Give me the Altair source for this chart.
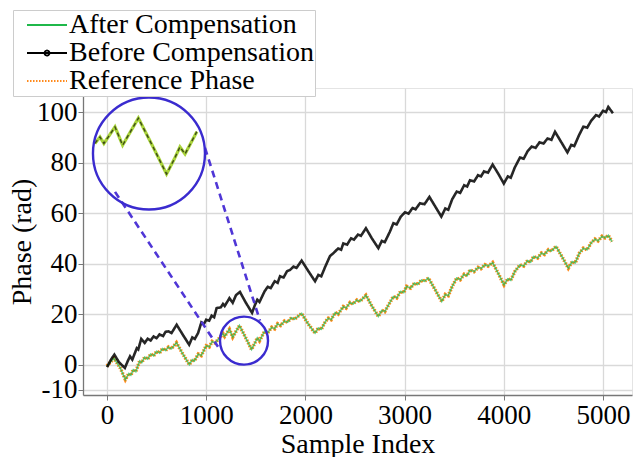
import altair as alt
import pandas as pd

# ---------------- data ----------------
series_names = ["After Compensation", "Before Compensation", "Reference Phase"]
series_colors = ["#1fb84a", "#000000", "#ff8a1c"]

after_samples = [0, 70, 130, 185, 220, 240, 265, 290, 330, 350, 380, 410, 440, 470, 500, 530,
                 560, 590, 620, 650, 700, 760, 830, 860, 880, 920, 950, 1000, 1030, 1060, 1090,
                 1147, 1169, 1186, 1234, 1267, 1335, 1400, 1457, 1490, 1515, 1537, 1588, 1620,
                 1660, 1690, 1720, 1750, 1790, 1820, 1860, 1890, 1962, 2030, 2097, 2130, 2160,
                 2200, 2231, 2260, 2300, 2330, 2382, 2410, 2450, 2480, 2520, 2550, 2610, 2670,
                 2735, 2770, 2800, 2850, 2887, 2920, 2960, 2990, 3020, 3060, 3100, 3130, 3170,
                 3200, 3240, 3310, 3374, 3410, 3440, 3480, 3525, 3560, 3600, 3630, 3660, 3700,
                 3740, 3770, 3810, 3840, 3887, 3945, 4002, 4040, 4070, 4110, 4163, 4200, 4240,
                 4270, 4300, 4340, 4380, 4410, 4450, 4480, 4526, 4590, 4650, 4690, 4720, 4760,
                 4802, 4840, 4880, 4919, 4950, 4990, 5020, 5053, 5090]
after_values = [-0.5, 2.5, -1.0, -5.9, -3.5, -4.2, -2.0, -2.8, 1.5, 0.8, 3.0, 2.2, 4.2, 3.5, 5.3, 4.6,
                6.4, 5.6, 7.0, 6.3, 8.7, 4.5, 0.0, 2.0, 1.4, 4.2, 3.6, 7.5, 7.0, 9.2, 8.6,
                11.2, 12.3, 11.2, 14.0, 10.9, 15.5, 10.5, 6.0, 8.5, 10.6, 9.4, 13.2, 12.6,
                14.8, 14.2, 16.2, 15.5, 17.3, 16.8, 18.6, 18.0, 20.3, 16.0, 12.5, 14.5, 14.0,
                17.0, 18.4, 17.8, 20.6, 20.0, 23.0, 22.4, 24.6, 24.0, 25.6, 25.0, 27.5, 23.2,
                19.1, 21.5, 21.0, 24.5, 27.0, 26.4, 29.0, 28.5, 31.0, 30.3, 32.3, 31.7, 33.5,
                33.0, 34.3, 29.5, 25.0, 27.8, 27.3, 31.0, 34.3, 33.6, 35.8, 35.2, 37.5, 36.8,
                38.5, 38.0, 39.6, 39.0, 40.4, 36.0, 31.6, 34.0, 33.4, 36.8, 39.5, 39.0, 41.2,
                40.6, 42.8, 42.2, 44.2, 43.6, 45.5, 45.0, 46.8, 42.5, 38.2, 40.8, 40.3, 44.0,
                46.1, 45.5, 48.2, 49.7, 49.0, 50.8, 50.2, 51.2, 48.7]

# the reference phase lies on top of the compensated phase
reference_samples = after_samples
reference_values = after_values

before_samples = [0, 40, 74, 120, 180, 210, 232, 255, 300, 315, 345, 380, 410, 440, 470, 500, 530,
                  565, 590, 618, 650, 702, 765, 828, 860, 885, 918, 951, 975, 1000, 1030, 1055,
                  1080, 1105, 1147, 1169, 1186, 1234, 1267, 1300, 1340, 1400, 1462, 1490, 1515,
                  1537, 1588, 1620, 1650, 1690, 1720, 1744, 1780, 1815, 1845, 1880, 1910, 1962,
                  2030, 2097, 2130, 2160, 2200, 2248, 2281, 2330, 2360, 2382, 2420, 2460, 2490,
                  2530, 2560, 2610, 2670, 2735, 2770, 2800, 2850, 2887, 2920, 2960, 3004, 3040,
                  3080, 3110, 3155, 3200, 3250, 3310, 3370, 3410, 3440, 3480, 3525, 3560, 3600,
                  3630, 3659, 3700, 3740, 3770, 3800, 3840, 3887, 3945, 4000, 4040, 4070, 4110,
                  4163, 4200, 4240, 4281, 4320, 4360, 4400, 4440, 4480, 4516, 4580, 4641, 4680,
                  4710, 4760, 4802, 4840, 4880, 4929, 4960, 5000, 5030, 5053, 5100]
before_values = [-1.0, 2.0, 4.0, 1.0, -1.3, 1.5, 3.3, 2.0, 6.5, 6.0, 10.2, 8.6, 10.3, 9.6, 11.2, 10.5, 12.0,
                 11.3, 13.0, 13.2, 12.5, 15.8, 11.8, 7.9, 10.8, 10.2, 12.5, 16.7, 16.0, 17.8, 17.4, 19.4,
                 18.8, 22.4, 22.7, 24.0, 23.2, 26.3, 24.5, 27.5, 28.8, 24.5, 20.5, 23.5, 25.7,
                 24.8, 29.0, 30.8, 30.3, 33.0, 32.4, 35.0, 34.5, 37.0, 37.5, 38.8, 38.3, 41.2,
                 37.0, 33.0, 35.5, 35.0, 38.8, 43.0, 44.1, 46.0, 45.5, 48.0, 47.5, 50.0, 49.5,
                 51.5, 51.0, 54.0, 50.0, 46.1, 49.0, 48.5, 52.5, 56.0, 55.5, 58.5, 60.3, 59.8,
                 62.0, 61.5, 63.9, 63.5, 66.4, 62.5, 58.6, 61.8, 61.3, 65.5, 68.5, 68.0, 71.0,
                 70.5, 73.0, 72.5, 75.0, 74.5, 76.5, 76.0, 79.2, 75.5, 71.7, 74.5, 74.0, 78.0,
                 82.0, 81.5, 84.5, 86.3, 85.8, 88.0, 87.5, 89.5, 89.0, 92.2, 88.0, 84.0, 87.0,
                 86.5, 91.0, 94.2, 93.8, 96.5, 98.8, 98.2, 100.5, 100.0, 102.0, 99.5]

x_ticks = [0, 1000, 2000, 3000, 4000, 5000]
y_ticks = [-10, 0, 20, 40, 60, 80, 100]

# zoom annotation (data units): small circle, big circle, magnification
small_center = (1381, 9.5)
big_center = (423, 83.6)
magnification = 2.33
inset_range = (1147, 1588)
connector_x1 = [81, 988]
connector_y1 = [68.4, 85.8]
connector_x2 = [1119, 1542]
connector_y2 = [7.1, 17.4]

# ---------------- tables ----------------
rows = []
for name, xs, ys in [(series_names[0], after_samples, after_values),
                     (series_names[1], before_samples, before_values),
                     (series_names[2], reference_samples, reference_values)]:
    for i, (s, v) in enumerate(zip(xs, ys)):
        rows.append({"series": name, "sample": s, "phase": v, "idx": i})
df = pd.DataFrame(rows)

inset_rows = []
for i, (s, v) in enumerate(zip(after_samples, after_values)):
    if inset_range[0] <= s <= inset_range[1]:
        inset_rows.append({
            "sample": big_center[0] + (s - small_center[0]) * magnification,
            "phase": big_center[1] + (v - small_center[1]) * magnification,
            "idx": i,
        })
inset_df = pd.DataFrame(inset_rows)

circle_df = pd.DataFrame({
    "sample": [small_center[0], big_center[0]],
    "phase": [small_center[1], big_center[1]],
    "kind": ["small", "big"],
})
conn_df = pd.DataFrame({"x1": connector_x1, "y1": connector_y1,
                        "x2": connector_x2, "y2": connector_y2})

FONT = "Liberation Serif"
xscale = alt.Scale(domain=[-242, 5292], nice=False, zero=False)
yscale = alt.Scale(domain=[-12, 109.5], nice=False, zero=False)

X = alt.X("sample:Q", scale=xscale,
          axis=alt.Axis(title="Sample Index", values=x_ticks, labelExpr="'' + datum.value",
                        labelOverlap=False))
Y = alt.Y("phase:Q", scale=yscale,
          axis=alt.Axis(title="Phase (rad)", values=y_ticks, labelExpr="'' + datum.value",
                        labelOverlap=False))

color_scale = alt.Scale(domain=series_names, range=series_colors)
dash_scale = alt.Scale(domain=series_names, range=[[1, 0], [1, 0], [1.5, 1.5]])
size_scale = alt.Scale(domain=series_names, range=[1.6, 3.6, 1.2])
opacity_scale = alt.Scale(domain=series_names, range=[0.7, 1.0, 0.55])
shape_scale = alt.Scale(domain=series_names, range=[
    "M-2,0H2",
    "M-2,0H2M0.25,0A0.25,0.25,0,1,1,-0.25,0A0.25,0.25,0,1,1,0.25,0",
    "M-2,0H2",
])

legend = alt.Legend(orient="none", legendX=-70, legendY=-78, title=None,
                    labelFont=FONT, labelFontSize=28, labelLimit=500,
                    symbolSize=400, symbolStrokeWidth=1.8, labelOffset=8,
                    symbolOffset=19, fillColor="white", strokeColor="#cccccc",
                    padding=1, rowPadding=-4, symbolOpacity=1)

ref_line = alt.Chart(df).transform_filter(
    alt.datum.series == series_names[2]
).mark_line(clip=True).encode(
    x=X, y=Y,
    color=alt.Color("series:N", scale=color_scale, legend=legend),
    strokeDash=alt.StrokeDash("series:N", scale=dash_scale, legend=legend),
    size=alt.Size("series:N", scale=size_scale, legend=None),
    opacity=alt.Opacity("series:N", scale=opacity_scale, legend=None),
    order="idx:Q",
)

lines = alt.Chart(df).transform_filter(
    alt.datum.series != series_names[2]
).mark_line(clip=True).encode(
    x=X, y=Y,
    color=alt.Color("series:N", scale=color_scale, legend=legend),
    strokeDash=alt.StrokeDash("series:N", scale=dash_scale, legend=legend),
    size=alt.Size("series:N", scale=size_scale, legend=None),
    opacity=alt.Opacity("series:N", scale=opacity_scale, legend=None),
    order="idx:Q",
)

legend_layer = alt.Chart(df).mark_point(opacity=0, filled=False).encode(
    x="sample:Q", y="phase:Q",
    color=alt.Color("series:N", scale=color_scale, legend=legend),
    shape=alt.Shape("series:N", scale=shape_scale, legend=legend),
    strokeDash=alt.StrokeDash("series:N", scale=dash_scale, legend=legend),
)

connectors = alt.Chart(conn_df).mark_rule(color="#4f36d6", strokeWidth=2.6,
                                          strokeDash=[7, 5]).encode(
    x="x1:Q", y="y1:Q", x2="x2:Q", y2="y2:Q")

inset_base = alt.Chart(inset_df).mark_line(color="#a9d43a", strokeWidth=3.2).encode(
    x="sample:Q", y="phase:Q", order="idx:Q")
inset_dash = alt.Chart(inset_df).mark_line(color="#3d4a1a", strokeWidth=1.4,
                                           strokeDash=[4, 3]).encode(
    x="sample:Q", y="phase:Q", order="idx:Q")

circles = alt.Chart(circle_df).mark_point(shape="circle", filled=False, color="#3a2bcf",
                                          strokeWidth=2.4, opacity=1).encode(
    x="sample:Q", y="phase:Q",
    size=alt.Size("kind:N", scale=alt.Scale(domain=["small", "big"], range=[2304, 12544]),
                  legend=None),
)

chart = alt.layer(ref_line, lines, connectors, inset_base, inset_dash, circles,
                  legend_layer).resolve_scale(
    size="independent", opacity="independent"
).properties(
    width=549, height=307,
    padding={"left": 83, "top": 88, "right": 2, "bottom": 62},
    autosize=alt.AutoSizeParams(type="none"),
    background="white",
).configure_view(stroke="#e4e4e4", strokeWidth=1).configure_axis(
    labelFont=FONT, titleFont=FONT, labelFontSize=27, titleFontSize=28,
    labelColor="black", titleColor="black", titleFontWeight="normal",
    gridColor="#d9d9d9", gridWidth=1.3, domainColor="#777777", domainWidth=1.3,
    tickColor="#777777", tickSize=5,
).configure_axisY(labelPadding=1, titlePadding=0).configure_axisX(
    labelPadding=2, titlePadding=2)

chart.save("out.html", embed_options={"renderer": "svg", "actions": False})
